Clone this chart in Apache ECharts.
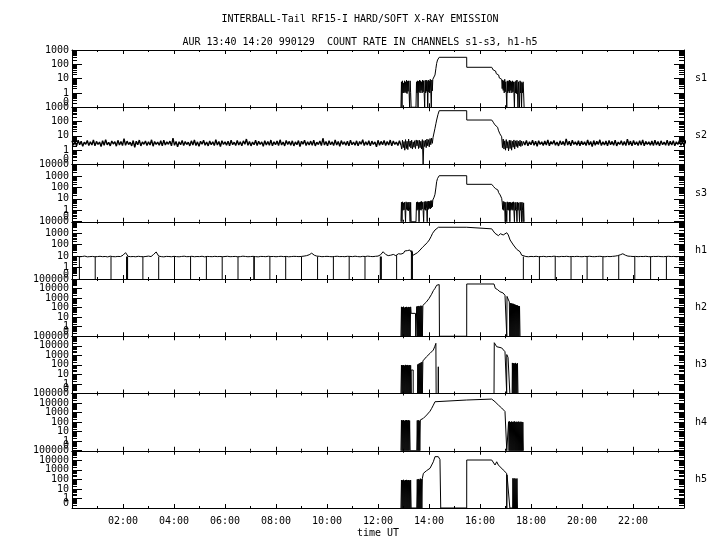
<!DOCTYPE html>
<html><head><meta charset="utf-8">
<script src="https://cdn.jsdelivr.net/npm/echarts@6/dist/echarts.min.js"></script>
<style>html,body{margin:0;padding:0;background:#fff}#c{width:720px;height:550px}</style>
</head><body><div id="c"></div>
<script>
// ---------------- data ----------------
const titleLine1 = 'INTERBALL-Tail RF15-I HARD/SOFT X-RAY EMISSION';
const titleLine2 = 'AUR 13:40 14:20 990129  COUNT RATE IN CHANNELS s1-s3, h1-h5';
const xAxisTitle = 'time UT';
const channels = ['s1','s2','s3','h1','h2','h3','h4','h5'];
const yMaxes = [1000,1000,10000,10000,100000,100000,100000,100000];
const yFloor = 0.1; // bottom of every panel, labelled "0"
const decadeTicks = [0.1,1,10,100,1000,10000,100000];
const minorMultipliers = [2,3,4,5,6,7,8,9];
const xMajorHours = [0,2,4,6,8,10,12,14,16,18,20,22,24];
const xLabelHours = [2,4,6,8,10,12,14,16,18,20,22];

// s1
const s1A = [0,6,0,7,1,5,1,7,1.2,6,1,8,0.9,6.5,1.3,7,1,0,7,1.1,0];
const s1B = [0,6,1,7,0,6.5,1.2,8,1,7,1.5,6,1,8,1.2,7,1,0,7.5,1,8,1.3,6.5,0,8,1.2,7,1,9,1.5,0,8,1.4,9];
const s1Peak = [[14.17,8],[14.20,11],[14.235,18],[14.27,50],[14.30,117],[14.335,200],[14.365,263],[14.40,309],[15.478,309],[15.48,62],[16.46,62],[16.50,55],[16.52,40],[16.55,45],[16.58,30],[16.61,34],[16.64,22],[16.67,25],[16.70,16],[16.73,18],[16.76,11],[16.79,13],[16.82,8],[16.85,9]];
const s1C = [2,8,1.5,7,1,9,1.2,6,1,0,7,1,6.5,1.3,8,1,7,1.5,6,1,7,1.2,6,1,0,6,1,7,0.9,8,1,0,6,1,0,7,1,6,0,5,1,6,1,0];

// s2
const s2Before = [
4.5,2.2,3.8,2.0,5.0,2.4,4.2,1.9,3.6,2.6,4.8,2.1,
3.9,2.3,5.2,2.0,4.1,2.5,3.7,1.8,4.6,2.2,5.5,2.4,
3.5,2.0,4.4,2.7,3.9,1.9,4.9,2.3,4.0,2.1,6.5,2.2,
4.3,2.5,3.6,2.0,4.7,1.6,4.2,2.4,5.1,2.0,3.8,2.6,
4.4,2.1,3.9,2.3,5.3,1.9,4.0,2.5,3.7,2.2,4.6,2.0,
5.0,2.3,3.8,2.6,4.3,2.0,7.0,2.2,4.1,1.7,3.9,2.4,
4.8,2.1,4.0,2.5,3.6,2.0,4.5,2.3,5.2,2.1,3.8,1.9,
4.2,2.6,4.9,2.2,3.7,2.0,4.4,2.4,3.9,2.1,5.4,2.3,
4.0,1.8,4.6,2.5,3.8,2.2,4.3,2.0,5.0,2.4,3.6,2.1,
4.7,2.3,3.9,2.0,4.5,2.6,6.0,2.2,4.1,2.0,3.7,2.4,
4.9,2.1,4.2,2.5,3.8,1.9,4.6,2.3,4.0,2.2,5.1,2.0,
3.9,2.4,4.4,2.1,5.3,2.3,3.7,2.0,4.8,2.5,4.1,2.2,
4.5,2.0,3.8,2.4,4.7,1.8,4.2,2.6,5.0,2.1,3.9,2.3,
4.3,2.2,4.9,2.0,3.6,2.5,4.4,2.1,6.8,2.3,4.0,2.0,
4.6,2.4,3.9,2.1,5.2,2.3,4.1,1.9,4.7,2.5,3.8,2.2,
4.2,2.0,5.0,2.4,3.7,2.2,4.5,2.0,4.0,2.6,5.4,2.1,
3.9,2.3,4.6,2.0,4.3,2.5,3.8,1.7,4.9,2.2,4.1,2.4,
4.8,2.1,4.0,2.3,5.1,2.0,4.4,2.5,3.7,2.1,4.6,2.3];
const s2Event = [1.2,5,1.5,4,1,5.5,1.3,4.2,1.1,6,1.8,4.4,1.4,5,1.2,3.8,1.6,4.6,1.3,5.2,2,4.8,1.3,5,1.5,4.2,1.2,5.5,0,4.6,1.8,5,1.5,6,2,5.4,1.7,6.5,2.4,7,3,8];
const s2Peak = [[14.20,9],[14.235,34],[14.27,70],[14.30,128],[14.35,300],[14.40,575],[15.478,575],[15.48,128],[16.46,128],[16.49,110],[16.52,90],[16.55,95],[16.58,60],[16.62,65],[16.655,44],[16.69,40],[16.72,25],[16.75,22],[16.78,14],[16.82,12],[16.85,8.7]];
const s2Decay = [1.5,6,1.2,4.5,1,5.5,1.4,4,0.9,5,1.3,4.8,1,4.2,1.6,5.2,1.2,4.5,1.8,4.8,1.5,4.2,2,5,1.8,4.4,2.1];
const s2After = [
4.1,2.3,4.7,2.0,3.9,2.4,5.0,2.2,4.3,1.9,4.6,2.5,
3.8,2.1,4.4,2.3,5.2,2.0,4.0,2.6,4.8,2.2,3.7,2.0,
4.5,2.4,4.1,2.1,6.2,2.3,4.2,2.0,4.9,2.5,3.9,2.2,
4.6,2.0,4.3,2.4,3.8,2.1,5.1,2.3,4.0,1.8,4.7,2.2,
4.2,2.5,5.3,2.1,3.9,2.3,4.4,2.0,4.8,2.4,4.1,2.2,
5.0,2.0,3.7,2.5,4.5,2.2,4.0,2.1,6.0,2.3,4.3,2.0,
4.7,2.4,3.9,2.1,4.6,2.3,5.2,2.0,4.1,2.5,3.8,2.2,
4.4,2.1,4.9,2.3,4.0,2.0,4.5,2.4,3.7,2.2,5.0,2.1,
4.2,2.3,4.6,2.0,3.9,2.5,4.8,2.2,4.3,2.0,4.7,2.4];

// s3
const s3A = [0,5,0,5.5,1,4.5,1.1,5,1,0,5.5,1.2,4.8,1,5,0.9,5.2,1,0,5,0];
const s3B = [0,5,1,5.5,1.2,4.8,0,5,1.1,5.5,1,6,1.3,5,1,0,5.5,1.2,6,1,5.8,1.4,0,6,1.2,6.5,1.5,6,1.3,7,1.6,7,2,8];
const s3Peak = [[14.17,10],[14.20,14],[14.235,25],[14.27,90],[14.30,315],[14.335,600],[14.365,850],[14.40,1050],[15.478,1050],[15.48,186],[16.46,186],[16.50,160],[16.53,120],[16.56,130],[16.60,80],[16.63,90],[16.66,55],[16.70,60],[16.73,35],[16.76,38],[16.79,22],[16.82,16],[16.85,11]];
const s3C = [5,1.2,6,1,5.5,1.3,0,5,1,0,5.5,1.1,4.8,1,5.2,0,5,1,4.5,1.2,5,1,5.5,0.9,0,4.8,1,5,1.2,0,5,1,4.5,1.1,0,5,1,4.8,0,5,1,0,4.5,0];

// h1
const h1Before = [
9,8.5,9.5,8.8,9.2,10,8.6,9,9.4,8.7,9.1,9.6,8.9,9.3,8.5,9.8,9,8.8,9.4,9.1,
12,20,9.5,8.9,9.2,8.7,9.6,9,8.8,9.3,10,9.1,14,23,10,9,8.6,9.4,9.2,8.8,
9.5,9,8.7,9.3,9.8,8.9,9.1,9.6,8.8,9.2,9,9.7,8.6,9.4,9.1,8.9,9.5,9,9.3,8.8,
9.2,9.6,8.9,9.1,9.4,8.7,9,9.8,9.3,8.8,9.1,9.5,9,8.6,9.4,9.2,8.9,9.7,9.1,9.3,
8.8,9.2,9.6,9,9.4,8.7,9.1,9.5,9.3,9,9.4,10,11,13,18,12,10,9.6,8.9,9.2,
9.5,9.1,8.8,9.3,9.7,9,9.2,8.9,9.6,9.4,9,9.8,9.1,8.7,9.5,9.2,9.9,9.3,9,9.6,
10,13,24,14,11,12,14,11,16];
const h1Event = [[12.9,15],[12.95,22],[13.0,18],[13.05,28],[13.1,20],[13.15,30],[13.2,25],[13.25,34],[13.30,30],[13.38,12],[13.45,12],[13.55,20],[13.65,34],[13.75,60],[13.84,93],[13.93,150],[14.01,256],[14.08,500],[14.14,980],[14.235,1900],[14.30,2800],[14.37,3300],[15.478,3300],[15.50,2400],[16.46,2400],[16.52,1550],[16.59,980],[16.65,800],[16.72,610],[16.80,900],[16.85,1100],[16.91,700],[16.98,900],[17.05,1100],[17.11,700],[17.18,256],[17.31,93],[17.44,39],[17.57,24],[17.635,12],[17.70,9]];
const h1After = [
9.2,8.8,9.4,9,9.6,8.9,9.1,9.5,8.7,9.3,9,9.8,9.2,8.8,9.4,9.1,9.6,8.9,9.3,9,
9.5,9.1,8.8,9.4,9.2,9.7,9,8.9,9.3,9.6,9.1,8.8,9.4,9,9.5,10,11,13,16,12,
10,9.6,9.2,9.4,8.9,9.3,9.1,9.6,9,8.8,9.4,9.2,9.5,9,8.9,9.3,9.6,9.1,9.4,8.9,
9.2,9,9.3];
const h1Drops = [[0.29,9],[0.91,9],[1.53,9],[2.14,9],[2.16,9],[2.18,9],[2.78,9],[3.40,9],[4.02,9],[4.65,9],[5.27,9],[5.89,9],[6.51,9],[7.13,9],[7.15,9],[7.76,9],[8.38,9],[9.00,9],[9.63,9],[10.25,9],[10.87,9],[11.49,9],[12.09,9],[12.11,9],[12.13,9],[12.73,12],[13.31,30],[13.33,30],[13.35,25],[17.70,9],[18.33,9],[18.95,9],[19.57,9],[20.20,9],[20.82,9],[21.44,11],[22.07,9],[22.69,9],[23.31,9]];

// h2
const h2A = [0,120,0,110,0,125,0,100,0,115,0,120,0,105,0,118,0,110,0,120,25];
const h2Mid = [[13.47,25],[13.48,0]];
const h2B = [0,130,0,140,0,150,0,135,0,160,0,150,0,170,180];
const h2Peak = [[13.80,190],[13.90,400],[14.00,900],[14.10,2500],[14.17,6000],[14.235,10500],[14.30,22000],[14.36,30000],[14.40,26000],[14.41,0],[15.478,0],[15.48,30000],[16.55,30000],[16.60,10500],[16.68,8000],[16.78,4700],[16.90,3500],[16.98,2000],[17.045,1660],[17.05,0],[17.06,1500],[17.10,800],[17.15,400],[17.17,0],[17.18,0]];
const h2C = [300,0,280,0,260,0,250,0,220,0,200,0,180,0,170,0,150,0,140,0];

// h3
const h3A = [0,95,0,90,0,97,0,85,0,100,0,92,0,98,0,88,0,95,0,90,0];
const h3Mid = [[13.30,29],[13.38,29],[13.381,0],[13.55,0]];
const h3B = [110,0,130,0,150,0,170,0,200,0,260];
const h3Peak = [[13.78,324],[13.90,700],[14.04,1620],[14.17,3600],[14.23,9000],[14.27,18000],[14.28,0],[14.36,0],[14.365,63],[14.37,0],[16.55,0],[16.56,21000],[16.60,15000],[16.655,8000],[16.72,7000],[16.85,6000],[16.98,2400],[17.04,2000],[17.047,0],[17.05,1200],[17.10,600],[17.15,400],[17.17,0],[17.26,0]];
const h3C = [160,0,150,0,140,0,160,0,130,0,150,0];

// h4
const h4A = [0,160,0,150,0,166,0,140,0,155,0,165,0,150,0,160,0,145,0];
const h4B = [0,150,0,160,0,140,0,170];
const h4Peak = [[13.68,166],[13.78,250],[13.91,560],[14.04,1400],[14.106,2800],[14.17,6000],[14.235,13700],[14.30,20800],[15.478,20800],[15.48,26000],[16.46,26000],[16.52,18000],[16.59,13700],[16.65,15000],[16.72,6200],[16.85,3000],[16.91,1870],[16.98,1300],[17.045,830],[17.05,0],[17.11,0]];
const h4C = [110,0,120,0,100,0,115,0,105,0,110,0,120,0,100,0,110,0,105,0,115,0,100,0,110,0,105,0,100,0];

// h5
const h5A = [0,86,0,80,0,90,0,75,0,85,0,88,0,80,0,86,0,78,0,84,0];
const h5B = [0,100,0,110,0,95,0,120,0,105,0,130,200];
const h5Peak = [[13.78,430],[13.90,800],[14.04,1450],[14.17,7000],[14.235,24000],[14.30,16000],[14.365,24000],[14.43,12000],[14.46,0],[15.478,0],[15.48,10700],[16.46,10700],[16.59,3200],[16.655,7000],[16.72,3200],[16.91,970],[17.045,430],[17.05,0],[17.06,300],[17.10,200],[17.17,0],[17.28,0]];
const h5C = [130,0,120,0,130,0,110,0,125,0,0];

// ---------------- build ----------------
function seq(start, step, vals) { return vals.map((v, i) => [+(start + i * step).toFixed(4), v]); }
function floorZero(pts) { return pts.map(p => [p[0], p[1] <= 0 ? yFloor : p[1]]); }

const s2BeforePts = seq(0,0.06,s2Before);
const s2AfterPts = seq(17.70,0.06,s2After);
const seriesData = {
  s1: [...seq(12.90,0.02,s1A), ...seq(13.49,0.02,s1B), ...s1Peak, ...seq(16.87,0.02,s1C)],
  s2: [s2BeforePts[s2BeforePts.length - 1], ...seq(12.93,0.03,s2Event), ...s2Peak, ...seq(16.88,0.03,s2Decay), s2AfterPts[0]],
  s3: [...seq(12.90,0.02,s3A), ...seq(13.49,0.02,s3B), ...s3Peak, ...seq(16.87,0.02,s3C)],
  h1: [...seq(0,0.1,h1Before), ...h1Event, ...seq(17.8,0.1,h1After)],
  h2: [...seq(12.90,0.02,h2A), ...h2Mid, ...seq(13.50,0.02,h2B), ...h2Peak, ...seq(17.19,0.02,h2C)],
  h3: [...seq(12.90,0.02,h3A), ...h3Mid, ...seq(13.56,0.02,h3B), ...h3Peak, ...seq(17.27,0.02,h3C)],
  h4: [...seq(12.90,0.02,h4A), ...seq(13.52,0.02,h4B), ...h4Peak, ...seq(17.12,0.02,h4C)],
  h5: [...seq(12.90,0.02,h5A), ...seq(13.52,0.02,h5B), ...h5Peak, ...seq(17.29,0.02,h5C)]
};
const dropData = [];
h1Drops.forEach(d => { dropData.push([d[0], d[1]], [d[0], 0], [d[0], '-']); });

const FONT = 'DejaVu Sans Mono';
const GRID_TOP = 50, PANEL_H = 57.25, LEFT = 72, RIGHT = 36;
const BLACK = '#000';
const line = { color: BLACK, width: 1 };
const inside = (v, lo, hi) => Math.min(Math.max(v, lo * 1.000001), hi * 0.999999);
const yLabelStyle = { color: BLACK, fontFamily: FONT, fontSize: 10, margin: 3, hideOverlap: false,
  formatter: v => v < 1 ? '0' : String(Math.round(v)) };

function lineSeries(i, data, width) {
  return {
    type: 'line', xAxisIndex: 2 * i, yAxisIndex: 4 * i, data: data,
    showSymbol: false, symbol: 'none', connectNulls: false,
    lineStyle: { color: BLACK, width: width }, itemStyle: { color: BLACK },
    animation: false, silent: true, clip: true
  };
}

const grids = [], xAxes = [], yAxes = [], series = [];
channels.forEach((name, i) => {
  grids.push({ left: LEFT, right: RIGHT, top: GRID_TOP + i * PANEL_H, height: PANEL_H, containLabel: false, outerBoundsMode: 'none' });
  ['bottom','top'].forEach(pos => {
    const showLab = (pos === 'bottom' && i === channels.length - 1);
    xAxes.push({
      type: 'value', gridIndex: i, position: pos, min: 0, max: 24, interval: 2,
      axisLine: { show: true, onZero: false, lineStyle: line },
      axisTick: { show: true, inside: true, length: 4, lineStyle: line, customValues: xMajorHours },
      minorTick: { show: true, splitNumber: 2, length: 2, lineStyle: line },
      splitLine: { show: false }, minorSplitLine: { show: false },
      axisLabel: showLab ? {
        show: true, customValues: xLabelHours, margin: 8, color: BLACK, fontFamily: FONT, fontSize: 10,
        formatter: v => (v < 10 ? '0' : '') + v + ':00'
      } : { show: false },
      name: showLab ? xAxisTitle : '', nameLocation: 'middle', nameGap: 20,
      nameTextStyle: { color: BLACK, fontFamily: FONT, fontSize: 10 }
    });
  });
  const yMax = yMaxes[i];
  const majors = decadeTicks.filter(v => v <= yMax).map(v => inside(v, yFloor, yMax));
  const labelsA = majors.filter((v, k) => k % 2 === 0);
  const labelsB = majors.filter((v, k) => k % 2 === 1);
  const minors = [];
  decadeTicks.filter(v => v < yMax).forEach(d => minorMultipliers.forEach(m => minors.push(d * m)));
  ['left','right'].forEach(pos => {
    const isLeft = pos === 'left';
    yAxes.push({
      type: 'log', logBase: 10, gridIndex: i, position: pos, min: yFloor, max: yMax,
      axisLine: { show: true, onZero: false, lineStyle: line },
      axisTick: { show: true, inside: true, length: 10, lineStyle: line, customValues: majors },
      splitLine: { show: false }, minorTick: { show: false },
      axisLabel: isLeft ? Object.assign({ show: true, customValues: labelsA, showMinLabel: true, showMaxLabel: true,
        verticalAlignMinLabel: 'bottom' }, yLabelStyle) : { show: false },
      name: isLeft ? '' : name, nameLocation: 'middle', nameRotate: 0, nameGap: 11,
      nameTextStyle: { color: BLACK, fontFamily: FONT, fontSize: 10, align: 'left', verticalAlign: 'middle' }
    });
    yAxes.push({
      type: 'log', logBase: 10, gridIndex: i, position: pos, min: yFloor, max: yMax,
      axisLine: { show: false, onZero: false },
      axisTick: { show: true, inside: true, length: 5, lineStyle: line, customValues: minors },
      splitLine: { show: false },
      axisLabel: isLeft ? Object.assign({ show: true, customValues: labelsB, showMinLabel: true, showMaxLabel: true }, yLabelStyle) : { show: false }
    });
  });
  series.push(lineSeries(i, floorZero(seriesData[name]), 1));
  if (name === 's2') {
    series.push(lineSeries(i, floorZero(s2BeforePts), 1.4));
    series.push(lineSeries(i, floorZero(s2AfterPts), 1.4));
  }
  if (name === 'h1') {
    series.push(lineSeries(i, dropData.map(p => [p[0], p[1] === '-' ? '-' : (p[1] <= 0 ? yFloor : p[1])]), 1));
  }
});

const chart = echarts.init(document.getElementById('c'), null, { renderer: 'canvas' });
chart.setOption({
  backgroundColor: '#fff',
  animation: false,
  title: [
    { text: titleLine1, left: 'center', top: 9, textStyle: { fontFamily: FONT, fontSize: 10, fontWeight: 'normal', color: BLACK } },
    { text: titleLine2, left: 'center', top: 32, textStyle: { fontFamily: FONT, fontSize: 10, fontWeight: 'normal', color: BLACK } }
  ],
  grid: grids, xAxis: xAxes, yAxis: yAxes, series: series
});
</script></body></html>
